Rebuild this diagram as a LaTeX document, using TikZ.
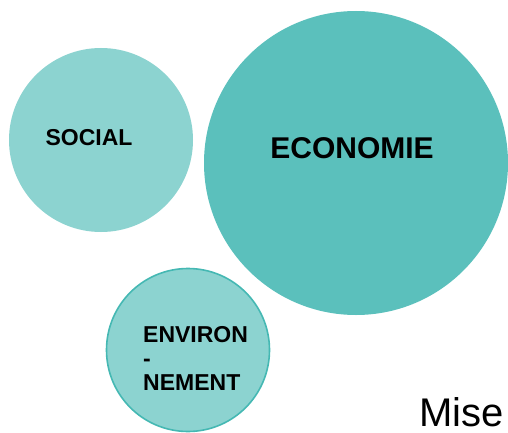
\documentclass[tikz,border=0pt]{standalone}
\usepackage{fontspec}
\setmainfont{Liberation Sans}
\definecolor{tealLight}{HTML}{8CD3D0}
\definecolor{tealDark}{HTML}{5BC0BC}
\definecolor{tealEdge}{HTML}{45B8B3}
\tikzset{
	bubble/.style={circle, inner sep=0pt, fill=tealLight},
	word/.style={font=\bfseries, text=black, inner sep=0pt}
}
\begin{document}
\begin{tikzpicture}[x=1pt,y=-1pt]
	\useasboundingbox (0,0) rectangle (508,433);
	\clip (0,0) rectangle (508,433);
	
	\node[bubble, minimum size=184pt] (social) at (101,140) {};
	\node[bubble, fill=tealDark, minimum size=304pt] (economie) at (356,163) {};
	\node[bubble, draw=tealEdge, line width=1.6pt, minimum size=163pt] (environnement) at (188,350) {};
	
	\node[word, font=\fontsize{23}{25}\selectfont\bfseries] at (89,138) {SOCIAL};
	\node[word, font=\fontsize{30}{32}\selectfont\bfseries] at (352,148) {ECONOMIE};
	\node[word, font=\fontsize{23}{25}\selectfont\bfseries, align=left, anchor=north west] at (143,326) {ENVIRON\\[-1pt]-\\[-1pt]NEMENT};
	
	\node[anchor=base west, inner sep=0pt, font=\fontsize{40}{44}\selectfont] (mise) at (419,426) {Mise};
\end{tikzpicture}
\end{document}
